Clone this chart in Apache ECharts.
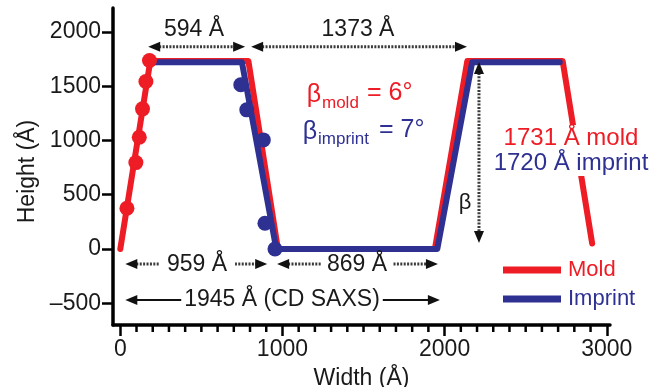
<!DOCTYPE html>
<html>
<head>
<meta charset="utf-8">
<script src="https://cdn.jsdelivr.net/npm/echarts@6/dist/echarts.min.js"></script>
<style>
  html, body { margin: 0; padding: 0; background: #ffffff; }
  #chart { width: 650px; height: 387px; }
</style>
</head>
<body>
<div id="chart"></div>
<script>
// Line-grating cross sections (width vs. height, in Å)
const moldProfile = [[0, 0], [185, 1731], [790, 1731], [972, 0], [1940, 0], [2140, 1731], [2728, 1731], [2910, 50]];
const imprintProfile = [[205, 1720], [750, 1720], [962, 0], [1955, 0], [2170, 1720], [2710, 1720]];
// Measured sidewall points
const moldPoints = [[41, 375], [96, 796], [117, 1030], [137, 1291], [158, 1543], [180, 1737]];
const imprintPoints = [[743, 1513], [780, 1282], [882, 1005], [892, 237], [954, 0]];
// Axis ticks
const xTickValues = [0, 1000, 2000, 3000];
const yTickValues = [-500, 0, 500, 1000, 1500, 2000];
const xMinorStep = 100;

const RED = '#ee1c25';
const BLUE = '#2e3192';
const FONT = "'Liberation Sans', Arial, Helvetica, sans-serif";
const INK = '#1a1a1a';

const chart = echarts.init(document.getElementById('chart'), null, { renderer: 'canvas' });

const xRange = { min: -45, max: 3020 };
const yRange = { min: -700, max: 2220 };

chart.setOption({
  animation: false,
  backgroundColor: '#ffffff',
  grid: { left: 113, right: 40, top: 8, bottom: 62, containLabel: false, outerBoundsMode: 'none' },
  legend: {
    orient: 'vertical',
    left: 498,
    top: 254,
    itemWidth: 58,
    itemHeight: 7,
    itemGap: 7,
    icon: 'rect',
    selectedMode: false,
    textStyle: { fontSize: 22, fontFamily: FONT, padding: [0, 0, 0, 2] },
    data: [
      { name: 'Mold', textStyle: { color: RED } },
      { name: 'Imprint', textStyle: { color: BLUE } }
    ]
  },
  xAxis: {
    type: 'value',
    min: xRange.min,
    max: xRange.max,
    name: 'Width (Å)',
    nameLocation: 'middle',
    nameGap: 42,
    nameTextStyle: { fontSize: 23, fontFamily: FONT, color: INK },
    splitLine: { show: false },
    axisLine: { show: true, onZero: false, lineStyle: { color: '#000', width: 3.5 } },
    axisTick: { show: true, length: 11, lineStyle: { color: '#000', width: 2.5 }, customValues: xTickValues },
    axisLabel: {
      fontSize: 23, fontFamily: FONT, color: INK, margin: 13, customValues: xTickValues,
      formatter: v => String(v)
    }
  },
  yAxis: {
    type: 'value',
    min: yRange.min,
    max: yRange.max,
    name: 'Height (Å)',
    nameLocation: 'middle',
    nameGap: 66,
    nameTextStyle: { fontSize: 23, fontFamily: FONT, color: INK, padding: [0, 10, 0, 0] },
    splitLine: { show: false },
    axisLine: { show: true, onZero: false, lineStyle: { color: '#000', width: 3.5 } },
    axisTick: { show: true, length: 11, lineStyle: { color: '#000', width: 2.5 }, customValues: yTickValues },
    axisLabel: {
      fontSize: 23, fontFamily: FONT, color: INK, margin: 12, customValues: yTickValues,
      formatter: v => (v < 0 ? '\u2013' + Math.abs(v) : String(v))
    }
  },
  series: [
    {
      name: 'Mold', type: 'line', data: moldProfile, showSymbol: false, symbol: 'none', z: 2,
      lineStyle: { color: RED, width: 6, cap: 'round', join: 'round' }, itemStyle: { color: RED }
    },
    {
      name: 'Imprint', type: 'line', data: imprintProfile, showSymbol: false, symbol: 'none', z: 3,
      lineStyle: { color: BLUE, width: 6, cap: 'round', join: 'round' }, itemStyle: { color: BLUE }
    },
    {
      name: 'Mold points', type: 'scatter', data: moldPoints, symbolSize: 15, z: 4,
      itemStyle: { color: RED, opacity: 1 }
    },
    {
      name: 'Imprint points', type: 'scatter', data: imprintPoints, symbolSize: 15, z: 5,
      itemStyle: { color: BLUE, opacity: 1 }
    }
  ]
});

// ---- annotations: minor ticks, dimension arrows and labels ----
const px = (x, y) => chart.convertToPixel({ xAxisIndex: 0, yAxisIndex: 0 }, [x, y]);

// short ticks every 100 Å below the width axis
const minorTicks = [];
for (let v = xTickValues[0]; v <= xTickValues[xTickValues.length - 1]; v += xMinorStep) {
  if (xTickValues.indexOf(v) >= 0) continue;
  const p = px(v, yRange.min);
  minorTicks.push({
    type: 'line', z: 30,
    shape: { x1: p[0], y1: p[1], x2: p[0], y2: p[1] + 7 },
    style: { stroke: '#000', lineWidth: 2.5 }
  });
}

function head(tip, dir, len, half) {
  const [tx, ty] = tip;
  const bx = tx - dir[0] * len, by = ty - dir[1] * len;
  const nx = -dir[1] * half, ny = dir[0] * half;
  return {
    type: 'polygon', z: 50,
    shape: { points: [[tx, ty], [bx + nx, by + ny], [bx - nx, by - ny]] },
    style: { fill: '#111' }
  };
}

function hArrow(x1, x2, y, dotted) {
  const a = px(x1, y), b = px(x2, y);
  const len = 12;
  return [
    {
      type: 'line', z: 40,
      shape: { x1: a[0] + len - 1, y1: a[1], x2: b[0] - len + 1, y2: b[1] },
      style: dotted
        ? { stroke: '#3a3a3a', lineWidth: 3, lineDash: [2, 1.4] }
        : { stroke: '#111', lineWidth: 2 }
    },
    head(a, [-1, 0], len, 5),
    head(b, [1, 0], len, 5)
  ];
}

function vArrow(x, y1, y2) {
  const top = px(x, y1), bot = px(x, y2);
  const len = 12;
  return [
    {
      type: 'line', z: 40,
      shape: { x1: top[0], y1: top[1] + len - 1, x2: bot[0], y2: bot[1] - len + 1 },
      style: { stroke: '#3a3a3a', lineWidth: 3, lineDash: [2, 1.4] }
    },
    head(top, [0, -1], len, 5),
    head(bot, [0, 1], len, 5)
  ];
}

function label(text, x, y, color, size, opts) {
  return Object.assign({
    type: 'text', z: 60, x: x, y: y,
    style: Object.assign({
      text: text, fill: color, font: size + 'px ' + FONT,
      textAlign: 'center', textVerticalAlign: 'middle'
    }, (opts && opts.style) || {})
  }, (opts && opts.el) || {});
}

const whiteBox = pad => ({ style: { backgroundColor: '#ffffff', padding: pad } });

const graphics = [].concat(
  minorTicks,
  hArrow(172, 770, 1862, true),
  hArrow(807, 2138, 1862, true),
  hArrow(31, 906, -138, true),
  hArrow(967, 1959, -138, true),
  hArrow(31, 1971, -470, false),
  vArrow(2212, 1723, 55),
  [
    label('594 Å', 194, 30, INK, 23),
    label('1373 Å', 358, 30, INK, 23),
    label('959 Å', 197, 265, INK, 23, whiteBox([0, 8])),
    label('869 Å', 357, 265, INK, 23, whiteBox([0, 6])),
    label('1945 Å (CD SAXS)', 282, 300, INK, 23, whiteBox([0, 3])),
    label('β', 465, 203, INK, 22),

    // sidewall angles
    label('β', 314, 95, RED, 25),
    label('mold', 322, 103, RED, 17, { style: { textAlign: 'left' } }),
    label('= 6°', 367, 93, RED, 25, { style: { textAlign: 'left' } }),
    label('β', 310, 132, BLUE, 25),
    label('imprint', 318, 139, BLUE, 17, { style: { textAlign: 'left' } }),
    label('= 7°', 379, 130, BLUE, 25, { style: { textAlign: 'left' } }),

    // line heights
    label('1731 Å mold', 571, 138, RED, 24, whiteBox([1, 4])),
    label('1720 Å imprint', 571, 163, BLUE, 24, whiteBox([1, 4]))
  ]
);

chart.setOption({ graphic: { elements: graphics } });
</script>
</body>
</html>
